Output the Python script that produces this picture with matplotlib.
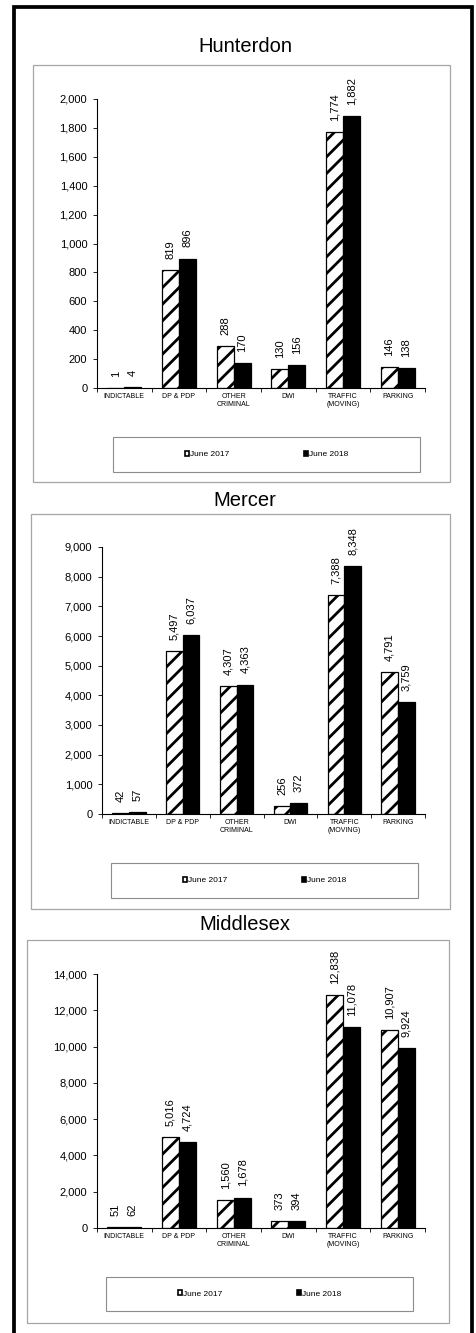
import matplotlib
matplotlib.use("Agg")
import matplotlib.pyplot as plt
from matplotlib.patches import Rectangle, Patch
from matplotlib.ticker import FuncFormatter
import numpy as np

plt.rcParams['font.family'] = ['Liberation Sans', 'DejaVu Sans']
plt.rcParams['hatch.linewidth'] = 2.0

W, H = 476, 1333

categories = ["INDICTABLE", "DP & PDP", "OTHER\nCRIMINAL", "DWI", "TRAFFIC\n(MOVING)", "PARKING"]
series_names = ["June 2017", "June 2018"]
counties = ["Hunterdon", "Mercer", "Middlesex"]

hunterdon_2017 = [1, 819, 288, 130, 1774, 146]
hunterdon_2018 = [4, 896, 170, 156, 1882, 138]
mercer_2017 = [42, 5497, 4307, 256, 7388, 4791]
mercer_2018 = [57, 6037, 4363, 372, 8348, 3759]
middlesex_2017 = [51, 5016, 1560, 373, 12838, 10907]
middlesex_2018 = [62, 4724, 1678, 394, 11078, 9924]

y_max = [2000, 9000, 14000]
y_step = [200, 1000, 2000]

values = [
    (hunterdon_2017, hunterdon_2018),
    (mercer_2017, mercer_2018),
    (middlesex_2017, middlesex_2018),
]

# pixel layout of each panel (x0, y0, x1, y1), measured top-down
layout = [
    dict(title_y=47, box=(33, 65, 450, 482), axes=(97, 99, 425, 388), leg=(113, 437, 420, 472)),
    dict(title_y=500, box=(31, 514, 450, 909), axes=(102, 547, 425, 814), leg=(111, 863, 418, 898)),
    dict(title_y=925, box=(27, 940, 449, 1323), axes=(97, 974, 425, 1228), leg=(106, 1277, 413, 1311)),
]


def rect_px(x0, y0, x1, y1, **kw):
    return Rectangle((x0 / W, 1 - y1 / H), (x1 - x0) / W, (y1 - y0) / H,
                     transform=fig.transFigure, fill=False, **kw)


fig = plt.figure(figsize=(W / 100, H / 100), dpi=100)
fig.patch.set_facecolor('white')

# outer heavy frame (runs off the bottom of the image)
fig.patches.append(Rectangle((14 / W, -0.02), (472 - 14) / W, 1 - 6.5 / H + 0.02,
                             transform=fig.transFigure, fill=False,
                             edgecolor='black', linewidth=2.7))

x = np.arange(len(categories))
bw = 0.31

for i, county in enumerate(counties):
    lay = layout[i]
    v17, v18 = values[i]

    fig.patches.append(rect_px(*lay['box'], edgecolor='#a6a6a6', linewidth=0.9))
    fig.text(245 / W, 1 - lay['title_y'] / H, county, ha='center', va='center', fontsize=14.5)

    l, t, r, b = lay['axes']
    ax = fig.add_axes([l / W, 1 - b / H, (r - l) / W, (b - t) / H])
    ax.patch.set_alpha(0)

    ax.bar(x - bw / 2, v17, bw, facecolor='white', edgecolor='black', hatch='//', linewidth=0.9)
    ax.bar(x + bw / 2, v18, bw, facecolor='black', edgecolor='black', linewidth=0.9)

    for xi, v in zip(x - bw / 2, v17):
        ax.annotate(f"{v:,}", (xi, v), xytext=(0, 8), textcoords='offset points',
                    rotation=90, ha='center', va='bottom', fontsize=8, annotation_clip=False)
    for xi, v in zip(x + bw / 2, v18):
        ax.annotate(f"{v:,}", (xi, v), xytext=(0, 8), textcoords='offset points',
                    rotation=90, ha='center', va='bottom', fontsize=8, annotation_clip=False)

    ax.set_xlim(-0.5, len(categories) - 0.5)
    ax.set_ylim(0, y_max[i])
    ax.set_yticks(np.arange(0, y_max[i] + 1, y_step[i]))
    ax.yaxis.set_major_formatter(FuncFormatter(lambda v, p: f"{int(v):,}"))
    ax.set_xticks(x)
    ax.set_xticklabels(categories, fontsize=5)
    ax.set_xticks(np.arange(-0.5, len(categories)), minor=True)

    ax.tick_params(axis='x', which='major', length=0, pad=3.5)
    ax.tick_params(axis='x', which='minor', length=3, width=0.6, direction='out')
    ax.tick_params(axis='y', length=3, width=0.6, pad=4, labelsize=8)

    for s in ['top', 'right']:
        ax.spines[s].set_visible(False)
    for s in ['left', 'bottom']:
        ax.spines[s].set_linewidth(0.8)
        ax.spines[s].set_color('black')

    # legend box
    lx0, ly0, lx1, ly1 = lay['leg']
    fig.patches.append(rect_px(lx0, ly0, lx1, ly1, edgecolor='#8c8c8c', linewidth=0.8))
    handles = [
        Patch(facecolor='white', edgecolor='black', linewidth=1.2),
        Patch(facecolor='black', edgecolor='black', linewidth=1.2),
    ]
    fig.legend(handles, series_names, loc='center',
               bbox_to_anchor=((lx0 + lx1) / 2 / W, 1 - (ly0 + ly1) / 2 / H),
               ncol=2, frameon=False, fontsize=6, handlelength=0.55, handleheight=0.55,
               handletextpad=0.1, columnspacing=8.9, borderpad=0)

fig.savefig('out.png', dpi=100)
